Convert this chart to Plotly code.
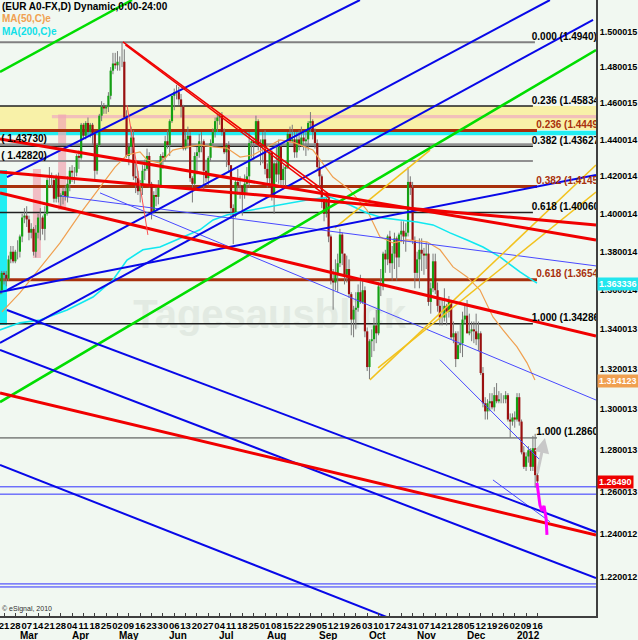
import math
import plotly.graph_objects as go

# ---------------- data ----------------
bar_index = list(range(-2, 236))          # 0 = 21 Feb 2011, 235 = 16 Jan 2012 (trading days)
first_open = 1.3580
closes = [1.3600,1.3690,1.3680,1.3660,1.3760,1.3800,1.3750,1.3800,
          1.3800,1.3880,1.3980,1.3990,1.3970,1.3900,1.3920,1.3800,1.3900,1.3980,1.3980,1.3920,1.4000,1.4180,1.4180,1.4180,1.4080,1.4200,1.4090,1.4100,1.4120,1.4090,1.4160,
          1.4230,1.4220,1.4220,1.4310,1.4300,1.4480,1.4420,1.4490,1.4440,1.4480,1.4430,1.4230,1.4370,1.4530,1.4580,1.4570,1.4580,1.4640,1.4780,1.4820,1.4810,
          1.4830,1.4830,1.4830,1.4520,1.4310,1.4360,1.4410,1.4200,1.4190,1.4120,1.4150,1.4230,1.4240,1.4310,1.4160,1.4010,1.4100,1.4090,1.4150,1.4310,1.4300,1.4390,
          1.4370,1.4500,1.4640,1.4660,1.4660,1.4620,1.4580,1.4350,1.4400,1.4420,1.4190,1.4160,1.4310,1.4330,1.4390,1.4390,1.4230,1.4190,1.4300,1.4380,1.4440,1.4500,
          1.4520,1.4530,1.4440,1.4330,1.4370,1.4260,1.4030,1.3990,1.4170,1.4150,1.4150,1.4100,1.4160,1.4200,1.4380,1.4390,1.4380,1.4500,1.4370,1.4360,1.4400,
          1.4240,1.4190,1.4330,1.4100,1.4270,1.4210,1.4360,1.4180,1.4240,1.4250,1.4430,1.4390,1.4400,1.4330,1.4400,1.4370,1.4410,1.4390,1.4400,1.4490,1.4500,1.4440,1.4380,
          1.4250,1.4200,1.4080,1.4000,1.4080,1.3880,1.3650,1.3640,1.3680,1.3740,1.3890,1.3790,1.3680,1.3710,1.3580,1.3450,1.3500,1.3510,1.3590,1.3540,1.3600,1.3390,
          1.3210,1.3340,1.3350,1.3420,1.3380,1.3620,1.3620,1.3790,1.3760,1.3880,1.3740,1.3790,1.3870,1.3770,1.3890,1.3910,1.3880,1.3900,1.4170,1.4140,1.3860,
          1.3690,1.3760,1.3810,1.3790,1.3780,1.3790,1.3540,1.3610,1.3750,1.3600,1.3520,1.3460,1.3460,1.3520,1.3490,1.3540,1.3360,1.3380,1.3250,1.3320,1.3330,1.3450,
          1.3470,1.3380,1.3390,1.3400,1.3390,1.3350,1.3380,1.3180,1.3030,1.2990,1.3030,1.3040,1.3010,1.3070,1.3040,1.3050,1.3050,1.3050,1.3070,1.2950,1.2940,1.2960,
          1.2950,1.3060,1.2940,1.2790,1.2720,1.2770,1.2800,1.2720,1.2810,1.2680,1.2650]
highs = [1.3630,1.3700,1.3700,1.3700,1.3780,1.3830,1.3830,1.3810,
         1.3860,1.3890,1.4000,1.4030,1.4040,1.3990,1.3950,1.3930,1.3940,1.4000,1.4030,1.3990,1.4040,1.4190,1.4250,1.4220,1.4200,1.4210,1.4220,1.4110,1.4140,1.4150,1.4200,
         1.4250,1.4260,1.4250,1.4320,1.4340,1.4490,1.4490,1.4500,1.4520,1.4490,1.4490,1.4440,1.4380,1.4540,1.4610,1.4600,1.4590,1.4660,1.4800,1.4880,1.4880,
         1.4890,1.4860,1.4940,1.4900,1.4560,1.4380,1.4470,1.4450,1.4270,1.4230,1.4180,1.4260,1.4290,1.4350,1.4330,1.4170,1.4120,1.4140,1.4180,1.4320,1.4330,1.4420,
         1.4450,1.4510,1.4640,1.4680,1.4700,1.4690,1.4650,1.4590,1.4440,1.4470,1.4440,1.4200,1.4330,1.4360,1.4430,1.4440,1.4400,1.4290,1.4310,1.4400,1.4460,1.4520,
         1.4540,1.4540,1.4550,1.4460,1.4380,1.4390,1.4260,1.4050,1.4190,1.4240,1.4200,1.4150,1.4210,1.4250,1.4440,1.4400,1.4400,1.4530,1.4510,1.4400,1.4440,
         1.4450,1.4270,1.4340,1.4340,1.4280,1.4360,1.4400,1.4380,1.4260,1.4260,1.4440,1.4470,1.4480,1.4440,1.4440,1.4450,1.4470,1.4440,1.4440,1.4500,1.4550,1.4510,1.4460,
         1.4400,1.4290,1.4210,1.4090,1.4100,1.4110,1.3890,1.3710,1.3760,1.3790,1.3920,1.3900,1.3790,1.3780,1.3760,1.3590,1.3520,1.3590,1.3630,1.3680,1.3660,1.3620,
         1.3410,1.3350,1.3400,1.3460,1.3500,1.3640,1.3710,1.3800,1.3810,1.3890,1.3910,1.3830,1.3900,1.3880,1.3900,1.3960,1.3960,1.3950,1.4250,1.4200,1.4170,
         1.3880,1.3800,1.3870,1.3870,1.3820,1.3850,1.3840,1.3640,1.3790,1.3790,1.3640,1.3560,1.3550,1.3610,1.3530,1.3570,1.3550,1.3440,1.3390,1.3390,1.3430,1.3490,
         1.3520,1.3550,1.3480,1.3440,1.3440,1.3480,1.3440,1.3390,1.3210,1.3060,1.3050,1.3080,1.3080,1.3110,1.3130,1.3090,1.3080,1.3070,1.3090,1.3080,1.2980,1.2980,
         1.2990,1.3080,1.3080,1.2950,1.2820,1.2790,1.2820,1.2810,1.2870,1.2880,1.2690]
lows = [1.3540,1.3580,1.3630,1.3620,1.3650,1.3740,1.3740,1.3740,
        1.3760,1.3770,1.3850,1.3950,1.3930,1.3860,1.3870,1.3780,1.3770,1.3870,1.3860,1.3890,1.3860,1.3990,1.4150,1.4140,1.4060,1.4060,1.4060,1.4030,1.4050,1.4070,1.4060,
        1.4120,1.4170,1.4160,1.4200,1.4240,1.4290,1.4400,1.4400,1.4420,1.4410,1.4370,1.4180,1.4210,1.4360,1.4500,1.4540,1.4540,1.4550,1.4620,1.4760,1.4790,
        1.4780,1.4780,1.4800,1.4510,1.4300,1.4260,1.4320,1.4180,1.4110,1.4100,1.4060,1.4100,1.4180,1.4230,1.4140,1.3970,1.4000,1.4040,1.4050,1.4140,1.4240,1.4280,
        1.4350,1.4310,1.4490,1.4560,1.4620,1.4590,1.4520,1.4340,1.4340,1.4350,1.4170,1.4060,1.4150,1.4210,1.4300,1.4330,1.4130,1.4170,1.4150,1.4280,1.4360,1.4410,
        1.4440,1.4480,1.4420,1.4320,1.4250,1.4220,1.3980,1.3840,1.3980,1.4100,1.4080,1.3990,1.4080,1.4100,1.4140,1.4300,1.4290,1.4370,1.4340,1.4260,1.4270,
        1.4210,1.4140,1.4150,1.4070,1.4000,1.4170,1.4160,1.4150,1.4130,1.4150,1.4240,1.4380,1.4380,1.4300,1.4300,1.4340,1.4360,1.4340,1.4310,1.4340,1.4440,1.4400,1.4350,
        1.4230,1.4150,1.4030,1.3960,1.3980,1.3850,1.3630,1.3500,1.3600,1.3590,1.3720,1.3730,1.3630,1.3640,1.3560,1.3370,1.3360,1.3400,1.3490,1.3530,1.3530,1.3360,
        1.3190,1.3150,1.3260,1.3290,1.3330,1.3370,1.3570,1.3600,1.3690,1.3730,1.3690,1.3650,1.3710,1.3650,1.3720,1.3850,1.3840,1.3800,1.3880,1.4100,1.3840,
        1.3610,1.3660,1.3610,1.3700,1.3680,1.3710,1.3520,1.3480,1.3590,1.3580,1.3490,1.3420,1.3420,1.3440,1.3420,1.3460,1.3350,1.3330,1.3210,1.3250,1.3280,1.3260,
        1.3430,1.3380,1.3370,1.3340,1.3330,1.3320,1.3290,1.3170,1.3010,1.2950,1.2950,1.2990,1.3000,1.2990,1.3030,1.3030,1.3030,1.3030,1.3030,1.2940,1.2860,1.2920,
        1.2910,1.2940,1.2920,1.2780,1.2710,1.2700,1.2740,1.2700,1.2700,1.2620,1.2620]

week_ticks = list(range(0, 236, 5))
week_labels = ["21","28","07","14","21","28","04","11","18","25","02","09","16","23","30",
               "06","13","20","27","04","11","18","25","01","08","15","22","29","05","12",
               "19","26","03","10","17","24","31","07","14","21","28","05","12","19","26",
               "02","09","16"]
month_names = ["Mar","Apr","May","Jun","Jul","Aug","Sep","Oct","Nov","Dec","2012"]
month_start = [6, 29, 50, 72, 94, 115, 138, 160, 181, 203, 225]

price_ticks = [1.500015,1.480015,1.460015,1.440014,1.420014,1.400014,1.380014,1.360014,
               1.340013,1.320013,1.300013,1.280013,1.260013,1.240012,1.220012]

ma50_x = [-0.9,7.0,24.7,33.5,48.9,54.2,59.9,63.0,68.7,74.4,80.6,86.3,92.1,98.2,104.0,109.7,115.9,121.6,
          128.2,136.1,144.9,152.4,159.9,165.6,171.4,177.5,186.3,192.1,197.8,204.0,209.7,215.4,219.8,226.0,230.4,233.9]
ma50_y = [1.3489,1.3586,1.3846,1.3999,1.4250,1.4315,1.4332,1.4288,1.4272,1.4342,1.4359,1.4370,1.4359,1.4353,1.4304,
          1.4315,1.4359,1.4397,1.4381,1.4342,1.4196,1.4126,1.4020,1.3878,1.3846,1.3862,1.3852,1.3810,1.3721,1.3669,
          1.3601,1.3463,1.3397,1.3311,1.3231,1.3146]
ma200_x = [-1.8,7.0,15.9,27.8,39.2,48.0,54.2,61.2,68.7,86.3,92.1,98.2,104.0,115.9,121.6,133.5,143.6,152.4,159.9,
           167.0,174.4,181.9,189.0,196.5,204.0,211.0,218.5,227.3,234.8]
ma200_y = [1.3397,1.3433,1.3448,1.3499,1.3565,1.3653,1.3757,1.3810,1.3825,1.3915,1.3967,1.3993,1.4009,1.4036,1.4047,
           1.4073,1.4089,1.4047,1.4004,1.3978,1.3967,1.3956,1.3941,1.3899,1.3862,1.3825,1.3773,1.3695,1.3637]

fib_black_levels = [1.4940, 1.45834, 1.43627, 1.40060, 1.34286, 1.2860]
fib_black_text = ["0.000 (1.4940)", "0.236 (1.45834)", "0.382 (1.43627)", "0.618 (1.40060)", "1.000 (1.34286)", "1.000 (1.2860)"]
fib_red_levels = [1.4449, 1.4145, 1.3654]
fib_red_text = ["0.236 (1.4449)", "0.382 (1.4145)", "0.618 (1.3654)"]
gray_levels = [1.4373, 1.4282]
gray_text = ["( 1.43730)", "( 1.42820)"]
blue_levels = [1.2624, 1.2589, 1.2168, 1.2154]

yellow_band = [1.4451, 1.4583]
pink_band = [1.4516, 1.4534]
cyan_band = [1.4423, 1.4447]

# trend lines: (x0, x1, y0, y1)
green_lines = [(-1.76, 56.4, 1.4773, 1.5181), (-1.76, 260.8, 1.3036, 1.4896)]
blue_lines = [(1.32, 156.8, 1.4196, 1.5181), (1.32, 240.5, 1.3601, 1.5181), (-1.76, 259.5, 1.3331, 1.5067),
              (-1.76, 260.8, 1.3591, 1.4207), (1.32, 260.8, 1.3499, 1.2410), (-1.76, 260.8, 1.3296, 1.2195),
              (-1.76, 168.7, 1.2729, 1.2016)]
red_lines = [(-1.76, 260.8, 1.3081, 1.2396), (-1.76, 260.8, 1.4111, 1.3366), (-1.76, 260.8, 1.4402, 1.3862),
             (-1.76, 260.8, 1.4223, 1.3941)]
red_double = [(52.4, 143.6, 1.4942, 1.4100), (53.5, 143.6, 1.4925, 1.4080)]
red_thin = [(54.2, 63.4, 1.4589, 1.3888)]
thin_blue_lines = [(24.7, 260.8, 1.4095, 1.3726), (42.3, 260.8, 1.4111, 1.3046), (192.1, 236.1, 1.3246, 1.2753),
                   (215.4, 240.5, 1.2657, 1.2458)]
yellow_lines = [(161.2, 260.8, 1.3146, 1.4261), (164.8, 260.8, 1.3206, 1.4116), (145.8, 187.7, 1.3925, 1.4342)]

magenta_x = [234.8, 236.1, 237.0, 237.9, 238.8, 239.2]
magenta_y = [1.2643, 1.2538, 1.2509, 1.2533, 1.2476, 1.2396]
arrow_from = (234.8, 1.2681)
arrow_to = (238.3, 1.2860)

pink_marks = [(14.5, 1.4240, 1.3767), (25.6, 1.4536, 1.4020)]
cyan_mark = (-1.76, 1.32, 1.4234, 1.3422)

X0, X1 = -1.76, 260.8
Y0, Y1 = 1.2021, 1.5181
BG = "#F1F8F1"
FONT = "Liberation Sans, Arial, sans-serif"

fig = go.Figure()

def seg(x0, x1, y0, y1, color, width, opacity=1.0):
    fig.add_trace(go.Scatter(x=[x0, x1], y=[y0, y1], mode="lines", opacity=opacity,
                             line=dict(color=color, width=width), hoverinfo="skip", showlegend=False))

def band(lo, hi, color, xa=X0, xb=X1):
    fig.add_trace(go.Scatter(x=[xa, xb, xb, xa, xa], y=[lo, lo, hi, hi, lo], mode="lines", fill="toself",
                             fillcolor=color, line=dict(width=0), hoverinfo="skip", showlegend=False))

# watermark (under everything)
fig.add_trace(go.Scatter(x=[117], y=[1.3458], mode="text", text=["<b>Tagesausblick</b>"],
                         textfont=dict(size=40, color="#E2EAE2", family=FONT), hoverinfo="skip", showlegend=False))

# bands
band(yellow_band[0], yellow_band[1], "#F8F1A8")
band(pink_band[0], pink_band[1], "rgba(240,180,190,0.8)", xa=21.1)
band(cyan_band[0], cyan_band[1], "#22EEF2")
band(cyan_mark[3], cyan_mark[2], "#22EEF2", xa=cyan_mark[0], xb=cyan_mark[1])
for (xm, ya, yb) in pink_marks:
    seg(xm, xm, ya, yb, "rgba(240,170,180,0.75)", 8)

# horizontal levels
for lv in fib_black_levels[:1]:
    seg(X0, 233.9, lv, lv, "#808080", 2)
for lv in fib_black_levels[1:5]:
    seg(X0, 233.0, lv, lv, "#202020", 1.5)
seg(X0, 234.8, fib_black_levels[5], fib_black_levels[5], "#404040", 1)
for lv in gray_levels:
    seg(X0, 233.0, lv, lv, "#909090", 2)
for lv in fib_red_levels:
    seg(X0, 234.8, lv, lv, "#A8300C", 3)
for lv in blue_levels:
    seg(X0, X1, lv, lv, "#3030FF", 1)

# candles
opens = [first_open] + closes[:-1]
wx, wy = [], []
ux, uy, dx, dy = [], [], [], []
for i, o, h, l, c in zip(bar_index, opens, highs, lows, closes):
    h = max(h, o, c)
    l = min(l, o, c)
    wx += [i, i, None]
    wy += [l, h, None]
    if c >= o:
        ux += [i, i, None]; uy += [o, c, None]
    else:
        dx += [i, i, None]; dy += [o, c, None]
fig.add_trace(go.Scatter(x=wx, y=wy, mode="lines", line=dict(color="#7a7a7a", width=1), hoverinfo="skip", showlegend=False))
fig.add_trace(go.Scatter(x=ux, y=uy, mode="lines", line=dict(color="#14A014", width=2.2), hoverinfo="skip", showlegend=False))
fig.add_trace(go.Scatter(x=dx, y=dy, mode="lines", line=dict(color="#9A1010", width=2.2), hoverinfo="skip", showlegend=False))

# moving averages
fig.add_trace(go.Scatter(x=ma50_x, y=ma50_y, mode="lines", line=dict(color="#F0A050", width=1.2), hoverinfo="skip", showlegend=False))
fig.add_trace(go.Scatter(x=ma200_x, y=ma200_y, mode="lines", line=dict(color="#10E8F0", width=1.6), hoverinfo="skip", showlegend=False))

# trend lines
for (a, b, c, d) in thin_blue_lines:
    seg(a, b, c, d, "#4848FF", 1)
for (a, b, c, d) in yellow_lines:
    seg(a, b, c, d, "#F2C21E", 1.5)
for (a, b, c, d) in green_lines:
    seg(a, b, c, d, "#00DD00", 2.5)
for (a, b, c, d) in blue_lines:
    seg(a, b, c, d, "#0808E8", 2)
for (a, b, c, d) in red_lines:
    seg(a, b, c, d, "#F00000", 3)
for (a, b, c, d) in red_double:
    seg(a, b, c, d, "#F00000", 1.5)
for (a, b, c, d) in red_thin:
    seg(a, b, c, d, "#FF5050", 1)

fig.add_trace(go.Scatter(x=magenta_x, y=magenta_y, mode="lines", line=dict(color="#FF00FF", width=3),
                         hoverinfo="skip", showlegend=False))

# fib labels (clipped by plot area like the original)
lab_font = dict(size=10, color="#000000", family=FONT, weight="bold")
fig.add_trace(go.Scatter(x=[232.5] * 5, y=fib_black_levels[:5], mode="text", text=fib_black_text[:5],
                         textposition="top right", textfont=lab_font, hoverinfo="skip", showlegend=False))
fig.add_trace(go.Scatter(x=[234.5], y=[fib_black_levels[5]], mode="text", text=[fib_black_text[5]],
                         textposition="top right", textfont=lab_font, hoverinfo="skip", showlegend=False))
fig.add_trace(go.Scatter(x=[234.5] * 3, y=fib_red_levels, mode="text", text=fib_red_text,
                         textposition="top right", textfont=dict(size=10, color="#A8300C", family=FONT, weight="bold"),
                         hoverinfo="skip", showlegend=False))
fig.add_trace(go.Scatter(x=[-1.2] * 2, y=gray_levels, mode="text", text=gray_text,
                         textposition="top right", textfont=lab_font, hoverinfo="skip", showlegend=False))

annotations = []
annotations.append(dict(x=arrow_to[0], y=math.log10(arrow_to[1]), ax=arrow_from[0], ay=math.log10(arrow_from[1]),
                        xref="x", yref="y", axref="x", ayref="y", showarrow=True, arrowhead=2, arrowsize=1,
                        arrowwidth=3, arrowcolor="#C8C8C8", text=""))
# header
annotations.append(dict(x=0, y=1, xref="paper", yref="paper", xanchor="left", yanchor="top", yshift=1,
                        text="(EUR A0-FX,D) Dynamic,0:00-24:00", showarrow=False,
                        font=dict(size=10, color="#000000", family=FONT, weight="bold")))
annotations.append(dict(x=0, y=1, xref="paper", yref="paper", xanchor="left", yanchor="top", yshift=-11,
                        text="MA(50,C)e", showarrow=False, font=dict(size=10, color="#F0A050", family=FONT, weight="bold")))
annotations.append(dict(x=0, y=1, xref="paper", yref="paper", xanchor="left", yanchor="top", yshift=-24,
                        text="MA(200,C)e", showarrow=False, font=dict(size=10, color="#10E0E8", family=FONT, weight="bold")))
annotations.append(dict(x=0, y=0, xref="paper", yref="paper", xanchor="left", yanchor="bottom", yshift=1,
                        text="© eSignal, 2010", showarrow=False, font=dict(size=7, color="#303030", family=FONT)))
# months
for name, st in zip(month_names, month_start):
    annotations.append(dict(x=st, y=0, xref="x", yref="paper", xanchor="left", yanchor="top", yshift=-12,
                            text=name, showarrow=False, font=dict(size=10, color="#000000", family=FONT, weight="bold")))
# value boxes on the price axis
for val, txt, col in [(1.363336, "1.363336", "#22E6EE"), (1.314123, "1.314123", "#F0A050"), (1.26490, "1.26490", "#EE0000")]:
    annotations.append(dict(x=1, y=math.log10(val), xref="paper", yref="y", xanchor="left", yanchor="middle", xshift=1,
                            text=txt, showarrow=False, bgcolor=col, borderpad=1,
                            font=dict(size=9, color="#FFFFFF", family=FONT, weight="bold")))

fig.update_layout(
    width=638, height=640,
    margin=dict(l=0, r=42, t=0, b=24),
    paper_bgcolor=BG, plot_bgcolor=BG,
    showlegend=False,
    annotations=annotations,
    xaxis=dict(range=[X0, X1], showgrid=False, zeroline=False, tickmode="array",
               tickvals=week_ticks, ticktext=week_labels, tickangle=0, ticklabeloverflow="allow",
               ticks="inside", ticklen=3, tickcolor="#404040",
               tickfont=dict(size=9.5, color="#000000", family=FONT, weight="bold"),
               showline=True, linecolor="#404040", linewidth=2),
    yaxis=dict(type="log", range=[math.log10(Y0), math.log10(Y1)], side="right", showgrid=False, zeroline=False,
               tickmode="array", tickvals=price_ticks, ticktext=[f"{v:.6f}" for v in price_ticks],
               ticklabeloverflow="allow",
               ticks="", tickfont=dict(size=9, color="#000000", family=FONT, weight="bold"),
               showline=True, linecolor="#404040", linewidth=2),
)

fig.write_html("out.html", config={"displayModeBar": False},
               post_script="document.body.style.margin='0px';document.body.style.overflow='hidden';")
